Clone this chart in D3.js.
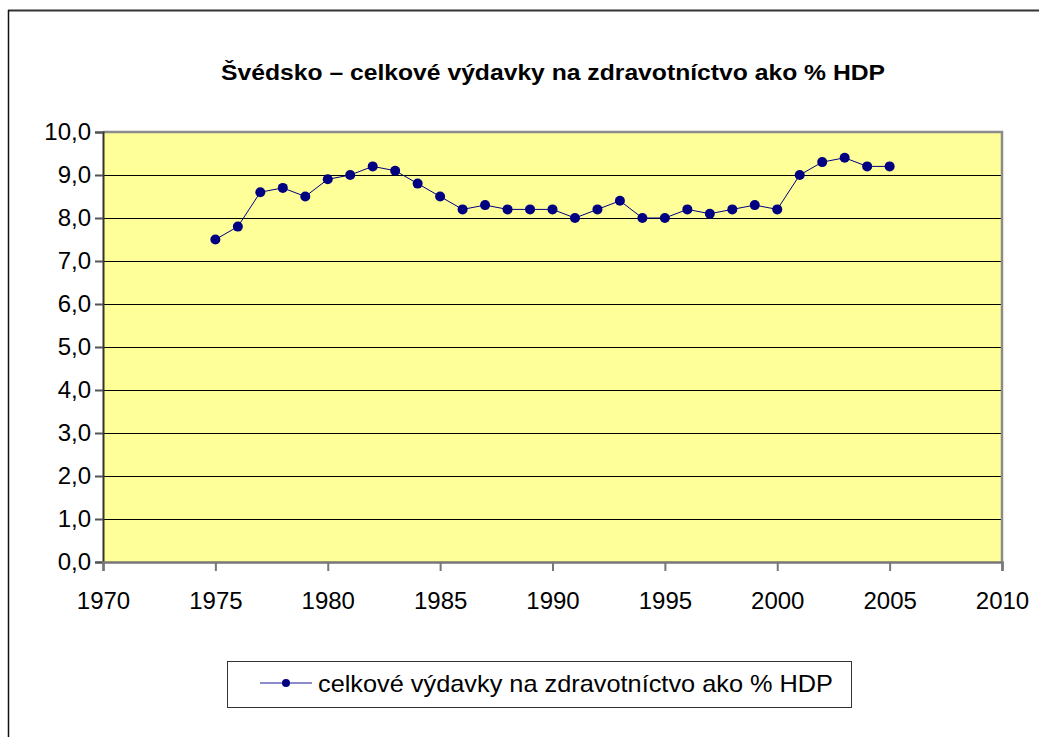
<!doctype html>
<html lang="sk">
<head>
<meta charset="utf-8">
<script src="https://d3js.org/d3.v7.min.js"></script>
<title>Švédsko</title>
<style>
  body { margin: 0; background: #fff; }
  svg { display: block; font-family: Arial, "Liberation Sans", sans-serif; }
</style>
</head>
<body>
<svg id="chart"></svg>
<script>
const years = [1975, 1976, 1977, 1978, 1979, 1980, 1981, 1982, 1983, 1984,
               1985, 1986, 1987, 1988, 1989, 1990, 1991, 1992, 1993, 1994,
               1995, 1996, 1997, 1998, 1999, 2000, 2001, 2002, 2003, 2004, 2005];
const values = [7.5, 7.8, 8.6, 8.7, 8.5, 8.9, 9.0, 9.2, 9.1, 8.8,
                8.5, 8.2, 8.3, 8.2, 8.2, 8.2, 8.0, 8.2, 8.4, 8.0,
                8.0, 8.2, 8.1, 8.2, 8.3, 8.2, 9.0, 9.3, 9.4, 9.2, 9.2];
const xTicks = [1970, 1975, 1980, 1985, 1990, 1995, 2000, 2005, 2010];
const yTicks = [0, 1, 2, 3, 4, 5, 6, 7, 8, 9, 10];
const title = "Švédsko – celkové výdavky na zdravotníctvo ako % HDP";
const seriesName = "celkové výdavky na zdravotníctvo ako % HDP";

const width = 1039, height = 737;
const plot = { left: 103, top: 132, right: 1002, bottom: 562 };
const font = "Arial, 'Liberation Sans', sans-serif";

const svg = d3.select("#chart").attr("width", width).attr("height", height);

// outer frame (only top and left edges visible)
svg.append("line").attr("x1", 8).attr("y1", 10.5).attr("x2", width).attr("y2", 10.5)
  .attr("stroke", "#333").attr("stroke-width", 2);
svg.append("line").attr("x1", 8.5).attr("y1", 10).attr("x2", 8.5).attr("y2", height)
  .attr("stroke", "#111").attr("stroke-width", 1.5);

svg.append("text")
  .attr("x", 221).attr("y", 80)
  .attr("font-size", 22).attr("font-weight", "bold")
  .attr("textLength", 664).attr("lengthAdjust", "spacingAndGlyphs")
  .text(title);

const x = d3.scaleLinear().domain([1970, 2010]).range([plot.left, plot.right]);
const y = d3.scaleLinear().domain([0, 10]).range([plot.bottom, plot.top]);

svg.append("rect")
  .attr("x", plot.left).attr("y", plot.top)
  .attr("width", plot.right - plot.left).attr("height", plot.bottom - plot.top)
  .attr("fill", "#ffff99");

// gridlines
svg.append("g").selectAll("line")
  .data(yTicks.filter(d => d > 0 && d < 10))
  .join("line")
  .attr("x1", plot.left).attr("x2", plot.right)
  .attr("y1", d => Math.round(y(d)) + 0.5).attr("y2", d => Math.round(y(d)) + 0.5)
  .attr("stroke", "#000").attr("stroke-width", 1);

// plot border: top and right gray
svg.append("path")
  .attr("d", `M${plot.left},${plot.top} H${plot.right} V${plot.bottom}`)
  .attr("fill", "none").attr("stroke", "#8c8c8c").attr("stroke-width", 2.5);

const fmt = d => d3.format(".1f")(d).replace(".", ",");

const yAxis = svg.append("g")
  .attr("transform", `translate(${plot.left},0)`)
  .call(d3.axisLeft(y).tickValues(yTicks).tickFormat(fmt).tickSize(8).tickPadding(4));
yAxis.select(".domain").attr("stroke", "#333").attr("stroke-width", 2);
yAxis.selectAll(".tick line").attr("stroke", "#555").attr("stroke-width", 2);
yAxis.selectAll("text").attr("font-size", 24).attr("fill", "#000").attr("font-family", font);

const xAxis = svg.append("g")
  .attr("transform", `translate(0,${plot.bottom})`)
  .call(d3.axisBottom(x).tickValues(xTicks).tickFormat(d3.format("d")).tickSize(9).tickPadding(21));
xAxis.select(".domain").attr("stroke", "#777").attr("stroke-width", 2.5);
xAxis.selectAll(".tick line").attr("stroke", "#777").attr("stroke-width", 2);
xAxis.selectAll("text").attr("font-size", 24).attr("fill", "#000").attr("font-family", font);

const points = years.map((yr, i) => [yr, values[i]]);

svg.append("path")
  .datum(points)
  .attr("fill", "none").attr("stroke", "#000080").attr("stroke-width", 1)
  .attr("d", d3.line().x(d => x(d[0])).y(d => y(d[1])));

svg.append("g").selectAll("circle")
  .data(points)
  .join("circle")
  .attr("cx", d => x(d[0])).attr("cy", d => y(d[1]))
  .attr("r", 5).attr("fill", "#000080");

// legend
const lg = svg.append("g");
lg.append("rect")
  .attr("x", 227.5).attr("y", 661.5).attr("width", 624).attr("height", 46)
  .attr("fill", "#fff").attr("stroke", "#333").attr("stroke-width", 1);
lg.append("line").attr("x1", 260).attr("x2", 312).attr("y1", 683).attr("y2", 683)
  .attr("stroke", "#6666bb").attr("stroke-width", 1.5);
lg.append("circle").attr("cx", 286).attr("cy", 683).attr("r", 4).attr("fill", "#000080");
lg.append("text").attr("x", 318).attr("y", 692)
  .attr("font-size", 24).attr("textLength", 515).attr("lengthAdjust", "spacingAndGlyphs")
  .text(seriesName);
</script>
</body>
</html>
